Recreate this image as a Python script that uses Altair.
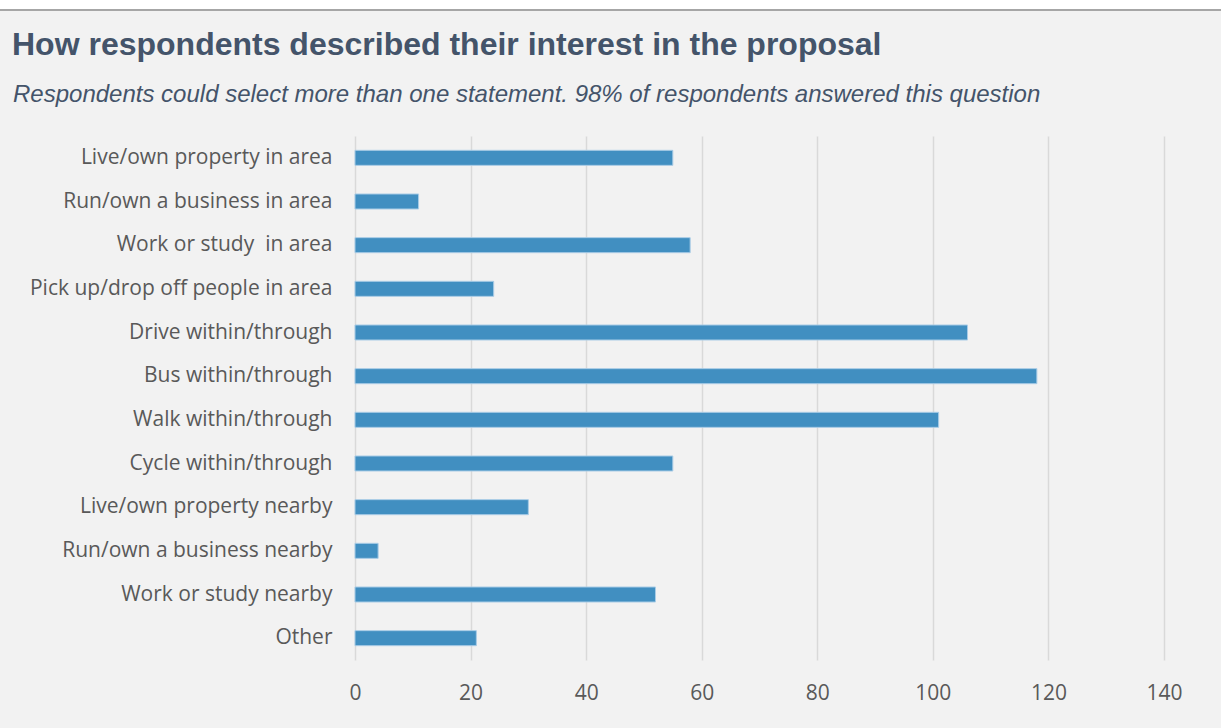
import altair as alt
import pandas as pd

categories = [
    "Live/own property in area",
    "Run/own a business in area",
    "Work or study\u00a0 in area",
    "Pick up/drop off people in area",
    "Drive within/through",
    "Bus within/through",
    "Walk within/through",
    "Cycle within/through",
    "Live/own property nearby",
    "Run/own a business nearby",
    "Work or study nearby",
    "Other",
]
values = [55, 11, 58, 24, 106, 118, 101, 55, 30, 4, 52, 21]
x_ticks = [0, 20, 40, 60, 80, 100, 120, 140]

title_text = "How respondents described their interest in the proposal"
subtitle_text = "Respondents could select more than one statement. 98% of respondents answered this question"

df = pd.DataFrame({"label": categories, "count": values})

W, H = 809, 524
PAD_L, PAD_T = 355, 136

bars = alt.Chart(df).mark_bar(
    color="#418fc1", stroke="#a9cce6", strokeWidth=1
).encode(
    x=alt.X(
        "count:Q",
        scale=alt.Scale(domain=[0, 140], nice=False),
        axis=alt.Axis(
            values=x_ticks, title=None, domain=False, ticks=False,
            labelPadding=22, labelFont="Open Sans", labelFontSize=21,
            labelColor="#595959", labelFlush=False, grid=True,
            gridColor="#d9d9d9", gridWidth=1.5,
        ),
    ),
    y=alt.Y(
        "label:N", sort=categories,
        scale=alt.Scale(paddingInner=0.656, paddingOuter=0.328),
        axis=alt.Axis(
            title=None, domain=False, ticks=False, labelPadding=23,
            labelFont="Open Sans", labelFontSize=21, labelColor="#595959",
            labelLimit=400, grid=False,
        ),
    ),
    tooltip=["label:N", "count:Q"],
)

deco = alt.Data(values=[{"k": 1}])
white_strip = alt.Chart(deco).mark_rect(color="white").encode(
    x=alt.value(-PAD_L), x2=alt.value(1221 - PAD_L),
    y=alt.value(-PAD_T), y2=alt.value(-PAD_T + 9),
)
top_line = alt.Chart(deco).mark_rule(color="#a6a6a6", strokeWidth=2).encode(
    x=alt.value(-PAD_L), x2=alt.value(1221 - PAD_L),
    y=alt.value(-PAD_T + 10),
)
title_mark = alt.Chart(deco).mark_text(
    text=title_text, align="left", baseline="alphabetic",
    font="Liberation Sans", fontSize=32, fontWeight="bold", color="#44546a",
).encode(x=alt.value(12 - PAD_L), y=alt.value(55 - PAD_T))
subtitle_mark = alt.Chart(deco).mark_text(
    text=subtitle_text, align="left", baseline="alphabetic",
    font="Liberation Sans", fontSize=24, fontStyle="italic", color="#44546a",
).encode(x=alt.value(13 - PAD_L), y=alt.value(102 - PAD_T))

chart = alt.layer(white_strip, top_line, title_mark, subtitle_mark, bars).properties(
    width=W, height=H,
    padding={"left": PAD_L, "top": PAD_T, "right": 1221 - PAD_L - W, "bottom": 728 - PAD_T - H},
    autosize=alt.AutoSizeParams(type="none"),
    background="#f2f2f2",
).configure_view(stroke=None)

chart.save("out.html", embed_options={"renderer": "svg", "actions": False})
